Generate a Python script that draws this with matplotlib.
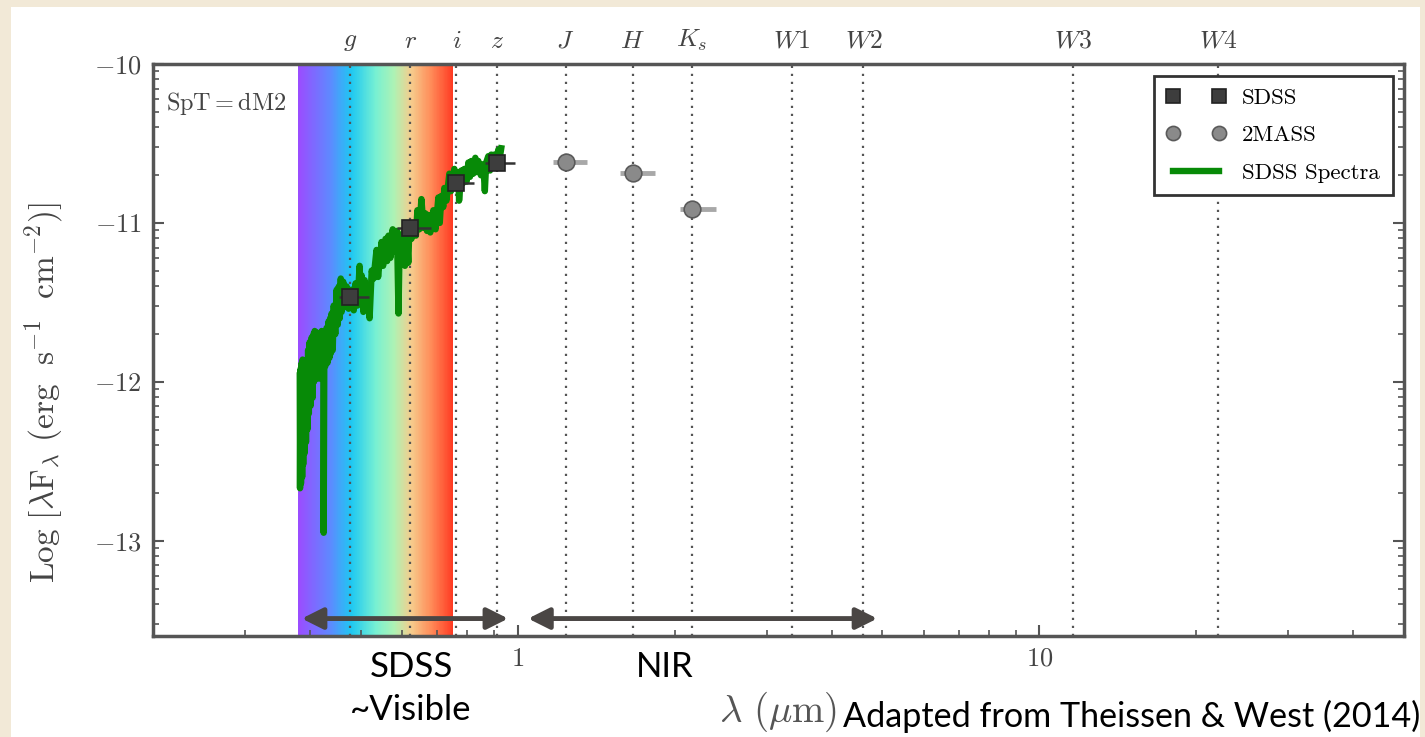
import numpy as np
import matplotlib
matplotlib.use('Agg')
import matplotlib.pyplot as plt
from matplotlib.colors import LinearSegmentedColormap
from matplotlib.patches import Rectangle
from matplotlib.ticker import FixedLocator, NullFormatter

plt.rcParams['font.family'] = 'serif'
plt.rcParams['font.serif'] = ['cmr10']
plt.rcParams['mathtext.fontset'] = 'cm'
plt.rcParams['axes.formatter.use_mathtext'] = True

# Photometry (wavelength in micron, log lambda*F_lambda)
sdss_wl = [0.477, 0.623, 0.763, 0.913]
sdss_flux = [-11.466, -11.032, -10.749, -10.623]
sdss_lo = [0.454, 0.587, 0.733, 0.864]
sdss_hi = [0.519, 0.683, 0.826, 0.987]

tmass_wl = [1.235, 1.662, 2.159]
tmass_flux = [-10.617, -10.686, -10.912]
tmass_lo = [1.168, 1.572, 2.050]
tmass_hi = [1.358, 1.836, 2.400]

# SDSS spectrum trace
spec_wl = [0.3822, 0.3826, 0.3834, 0.3842, 0.3855, 0.3862, 0.3870, 0.3880, 0.3890, 0.3902,
           0.3915, 0.3928, 0.3941, 0.3952, 0.3965, 0.3978, 0.3993, 0.4010, 0.4029, 0.4045,
           0.4060, 0.4070, 0.4082, 0.4100, 0.4118, 0.4135, 0.4150, 0.4162, 0.4174, 0.4192,
           0.4210, 0.4225, 0.4240, 0.4247, 0.4260, 0.4280, 0.4303, 0.4320, 0.4340, 0.4355,
           0.4370, 0.4385, 0.4399, 0.4420, 0.4440, 0.4470, 0.4498, 0.4520, 0.4540, 0.4560,
           0.4580, 0.4597, 0.4630, 0.4659, 0.4700, 0.4741, 0.4804, 0.4850, 0.4890, 0.4930,
           0.4977, 0.5000, 0.5021, 0.5060, 0.5088, 0.5130, 0.5155, 0.5201, 0.5250, 0.5293,
           0.5363, 0.5400, 0.5483, 0.5520, 0.5580, 0.5620, 0.5654, 0.5700, 0.5760, 0.5806,
           0.5870, 0.5909, 0.5940, 0.5987, 0.6040, 0.6080, 0.6120, 0.6170, 0.6201, 0.6257,
           0.6340, 0.6380, 0.6424, 0.6480, 0.6538, 0.6600, 0.6653, 0.6700, 0.6743, 0.6800,
           0.6892, 0.6960, 0.7046, 0.7090, 0.7140, 0.7200, 0.7235, 0.7300, 0.7396, 0.7450,
           0.7561, 0.7620, 0.7695, 0.7720, 0.7798, 0.7850, 0.7902, 0.7980, 0.8043, 0.8100,
           0.8149, 0.8220, 0.8294, 0.8350, 0.8404, 0.8500, 0.8592, 0.8650, 0.8700, 0.8783,
           0.8850, 0.8898, 0.8960, 0.9017, 0.9100, 0.9177, 0.9230, 0.9300]
spec_flux = [-11.96, -12.67, -11.92, -12.64, -11.88, -12.60, -11.86, -12.52, -11.90, -12.45,
             -11.87, -12.38, -11.89, -12.30, -11.80, -12.20, -11.75, -12.15, -11.72, -12.10,
             -11.70, -12.00, -11.68, -11.98, -11.69, -11.96, -11.70, -11.98, -11.72, -11.94,
             -11.68, -11.90, -11.70, -12.95, -11.72, -11.90, -11.66, -11.88, -11.62, -11.85,
             -11.60, -11.82, -11.57, -11.80, -11.52, -11.70, -11.42, -11.64, -11.40, -11.60,
             -11.35, -11.56, -11.37, -11.53, -11.40, -11.54, -11.42, -11.55, -11.38, -11.52,
             -11.27, -11.50, -11.33, -11.56, -11.36, -11.52, -11.40, -11.60, -11.30, -11.35,
             -11.17, -11.34, -11.12, -11.27, -11.10, -11.24, -11.08, -11.22, -11.04, -11.18,
             -11.05, -11.57, -11.10, -11.26, -11.06, -11.27, -11.03, -11.25, -11.02, -11.10,
             -11.01, -11.08, -10.92, -11.04, -10.85, -11.03, -10.94, -11.05, -10.95, -11.06,
             -10.92, -11.04, -10.84, -11.00, -10.83, -10.90, -10.78, -10.86, -10.69, -10.80,
             -10.66, -10.74, -10.68, -10.86, -10.67, -10.75, -10.66, -10.74, -10.62, -10.71,
             -10.61, -10.69, -10.59, -10.68, -10.61, -10.70, -10.63, -10.80, -10.62, -10.58,
             -10.67, -10.57, -10.64, -10.57, -10.62, -10.54, -10.60, -10.53]

# Filter effective wavelengths for the band markers
band_wl = [0.477, 0.623, 0.763, 0.913, 1.235, 1.662, 2.159, 3.35, 4.6, 11.6, 22.0]
band_labels = ['$g$', '$r$', '$i$', '$z$', '$J$', '$H$', '$K_s$',
               '$W1$', '$W2$', '$W3$', '$W4$']

visible_range = (0.380, 0.753)
sdss_arrow = (0.3855, 0.959)
nir_arrow = (1.047, 4.89)

rainbow = LinearSegmentedColormap.from_list('rainbow_band', [
    (0.00, '#9a4dff'), (0.20, '#5f88ff'), (0.34, '#1ec8f2'), (0.50, '#78f0d2'),
    (0.62, '#aef2b4'), (0.73, '#f6cc8c'), (0.86, '#ff8a58'), (1.00, '#ff3a22')])

fig = plt.figure(figsize=(14.25, 7.37), dpi=100, facecolor='#f2e9d7')
fig.patches.append(Rectangle((11 / 1425, 0), 1409 / 1425, 730 / 737,
                             transform=fig.transFigure, facecolor='white',
                             edgecolor='none', zorder=-10))

ax = fig.add_axes([0.1074, 0.1370, 0.8779, 0.7761])
ax.set_xscale('log')
ax.set_xlim(0.2, 50)
ax.set_ylim(-13.6, -10)

# visible-light colour strip
edges = np.geomspace(visible_range[0], visible_range[1], 300)
ax.pcolormesh(edges, [-13.6, -10], np.linspace(0, 1, 299)[None, :],
              cmap=rainbow, shading='flat', zorder=0, rasterized=True)

for wl in band_wl:
    ax.axvline(wl, color='#555555', ls=(0, (1, 2.6)), lw=1.6, zorder=1)

ax.plot(spec_wl, spec_flux, color='#078a07', lw=4.6, solid_joinstyle='round',
        zorder=3, label='SDSS Spectra')

sdss_err = [np.subtract(sdss_wl, sdss_lo), np.subtract(sdss_hi, sdss_wl)]
tmass_err = [np.subtract(tmass_wl, tmass_lo), np.subtract(tmass_hi, tmass_wl)]
ax.errorbar(sdss_wl, sdss_flux, xerr=sdss_err, fmt='none', ecolor='#333333',
            elinewidth=1.8, capsize=0, zorder=4)
ax.errorbar(tmass_wl, tmass_flux, xerr=tmass_err, fmt='none', ecolor='#a8a8a8',
            elinewidth=3.5, capsize=0, zorder=4)
ax.plot(sdss_wl, sdss_flux, 's', ms=11.5, mfc='#3d3d3d', mec='#222222', mew=1.2,
        ls='none', zorder=5, label='SDSS')
ax.plot(tmass_wl, tmass_flux, 'o', ms=12, mfc='#8a8a8a', mec='#5a5a5a', mew=1.2,
        ls='none', zorder=5, label='2MASS')

# reorder legend: SDSS, 2MASS, spectrum
handles, labels = ax.get_legend_handles_labels()
order = [1, 2, 0]
leg = ax.legend([handles[i] for i in order], [labels[i] for i in order],
                loc='upper right', numpoints=2, fancybox=False, framealpha=1,
                edgecolor='#333333', fontsize=16.5, borderaxespad=0.5,
                handlelength=2.6, labelspacing=0.75, markerscale=0.85,
                borderpad=0.55, handletextpad=0.7)
leg.get_frame().set_linewidth(2)

ax.text(0.01, 0.955, r'$\mathrm{SpT} = \mathrm{dM2}$', transform=ax.transAxes,
        fontsize=17.5, color='#444444', va='top', ha='left')

# axes styling
for sp in ax.spines.values():
    sp.set_color('#555555')
    sp.set_linewidth(2.5)
ax.set_xticks([1, 10])
ax.set_xticklabels(['$1$', '$10$'])
ax.xaxis.set_minor_locator(FixedLocator(
    [d * k for d in (0.1, 1, 10) for k in range(2, 10)]))
ax.xaxis.set_minor_formatter(NullFormatter())
ax.set_yticks([-10, -11, -12, -13])
ax.set_yticklabels([r'$-10$', r'$-11$', r'$-12$', r'$-13$'])
ax.yaxis.set_minor_locator(FixedLocator(
    [n + np.log10(k) for n in range(-14, -10) for k in range(2, 10)]))
ax.tick_params(which='both', direction='in', colors='#555555', top=False,
               right=True, labelsize=19, labelcolor='#444444')
ax.tick_params(which='major', length=8, width=1.5, pad=8)
ax.tick_params(which='minor', length=4, width=1.2)

ax.set_ylabel(r'$\mathrm{Log}\ [\lambda\mathrm{F}_\lambda\ (\mathrm{erg\ \ s^{-1}\ \ cm^{-2}})]$',
              fontsize=24, color='#444444')
ax.yaxis.set_label_coords(-0.07, 0.425)

# band names along the top
top = ax.twiny()
top.set_xscale('log')
top.set_xlim(ax.get_xlim())
top.set_xticks(band_wl)
top.set_xticklabels(band_labels)
top.xaxis.set_minor_locator(FixedLocator([]))
top.tick_params(length=0, labelsize=18.5, labelcolor='#444444', pad=8)
for sp in top.spines.values():
    sp.set_visible(False)

# wavelength-range arrows and annotations below the axis
for lo, hi in (sdss_arrow, nir_arrow):
    ax.annotate('', xy=(lo, -13.49), xytext=(hi, -13.49),
                arrowprops=dict(arrowstyle='<|-|>', color='#4a4644', lw=3.5,
                                mutation_scale=32, shrinkA=0, shrinkB=0),
                zorder=6)

fig.text(412 / 1425, 1 - 667 / 737, 'SDSS', family='Lato', fontsize=25,
         ha='center', va='center', color='black')
fig.text(411 / 1425, 1 - 710 / 737, '~Visible', family='Lato', fontsize=25,
         ha='center', va='center', color='black')
fig.text(665 / 1425, 1 - 667 / 737, 'NIR', family='Lato', fontsize=25,
         ha='center', va='center', color='black')
fig.text(778 / 1425, 1 - 712 / 737, r'$\lambda\ (\mu\mathrm{m})$', fontsize=28,
         ha='center', va='center', color='#555555')
fig.text(1420 / 1425, 1 - 727 / 737, 'Adapted from Theissen & West (2014)',
         family='Lato', fontsize=24.6, ha='right', va='baseline', color='black')

fig.savefig('out.png', dpi=100, facecolor=fig.get_facecolor())
